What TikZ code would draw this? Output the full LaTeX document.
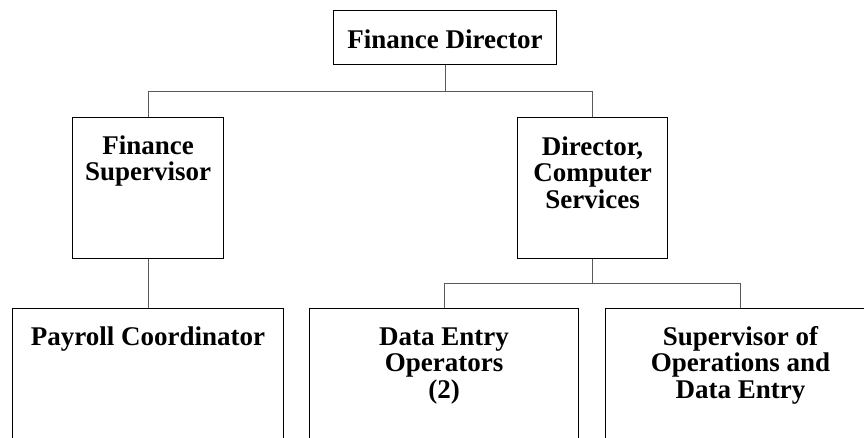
\documentclass[tikz,border=0pt]{standalone}
\usepackage{fontspec}
\setmainfont{Liberation Serif}
\usetikzlibrary{calc}
\begin{document}
\begin{tikzpicture}[x=0.75pt,y=-0.75pt,
  box/.style={draw=black,line width=0.8pt,rectangle,inner sep=0pt,anchor=north west},
  title/.style={font=\bfseries\fontsize{20.25}{20}\selectfont,align=center,inner sep=0pt,anchor=base},
  link/.style={draw=black!65,line width=0.8pt}]
\useasboundingbox (0,0) rectangle (864,437);
\clip (0,0) rectangle (864,437);
\fill[white] (0,0) rectangle (864,437);

% boxes (lower ones run past the page edge)
\node[box,minimum width=167.25pt,minimum height=40.5pt] (fd) at (333,10) {};
\node[box,minimum width=113.25pt,minimum height=105.75pt] (fs) at (72,117) {};
\node[box,minimum width=112.5pt,minimum height=105.75pt] (dcs) at (517,117) {};
\node[box,minimum width=203.25pt,minimum height=150pt] (pc) at (12,308) {};
\node[box,minimum width=201.75pt,minimum height=150pt] (de) at (309,308) {};
\node[box,minimum width=202.5pt,minimum height=150pt] (sup) at (605,308) {};

% titles: a multi-line node sits on the baseline of its last line,
% so each one is placed that many lines (26.67 units each) lower
\node[title] (fdt) at ($(fd.north)+(0,38)$) {Finance Director};
\node[title] (fst) at ($(fs.north)+(0,37+26.67)$) {Finance\\Supervisor};
\node[title] (dcst) at ($(dcs.north)+(0,38+53.33)$) {Director,\\Computer\\Services};
\node[title] (pct) at ($(pc.north)+(0,37)$) {Payroll Coordinator};
\node[title] (det) at ($(de.north)+(0,37+53.33)$) {Data Entry\\Operators\\(2)};
\node[title] (supt) at ($(sup.north)+(0,37+53.33)$) {Supervisor of\\Operations and\\Data Entry};

% reporting lines
\coordinate (j1) at ($(fd.south)+(0,26)$);
\coordinate (j2) at ($(dcs.south)+(0,24.5)$);
\draw[link] (fd.south) -- (j1) -| (fs.north);
\draw[link] (j1) -| (dcs.north);
\draw[link] (fs.south) -- (pc.north);
\draw[link] (dcs.south) -- (j2) -| (de.north);
\draw[link] (j2) -| (sup.north);
\end{tikzpicture}
\end{document}
